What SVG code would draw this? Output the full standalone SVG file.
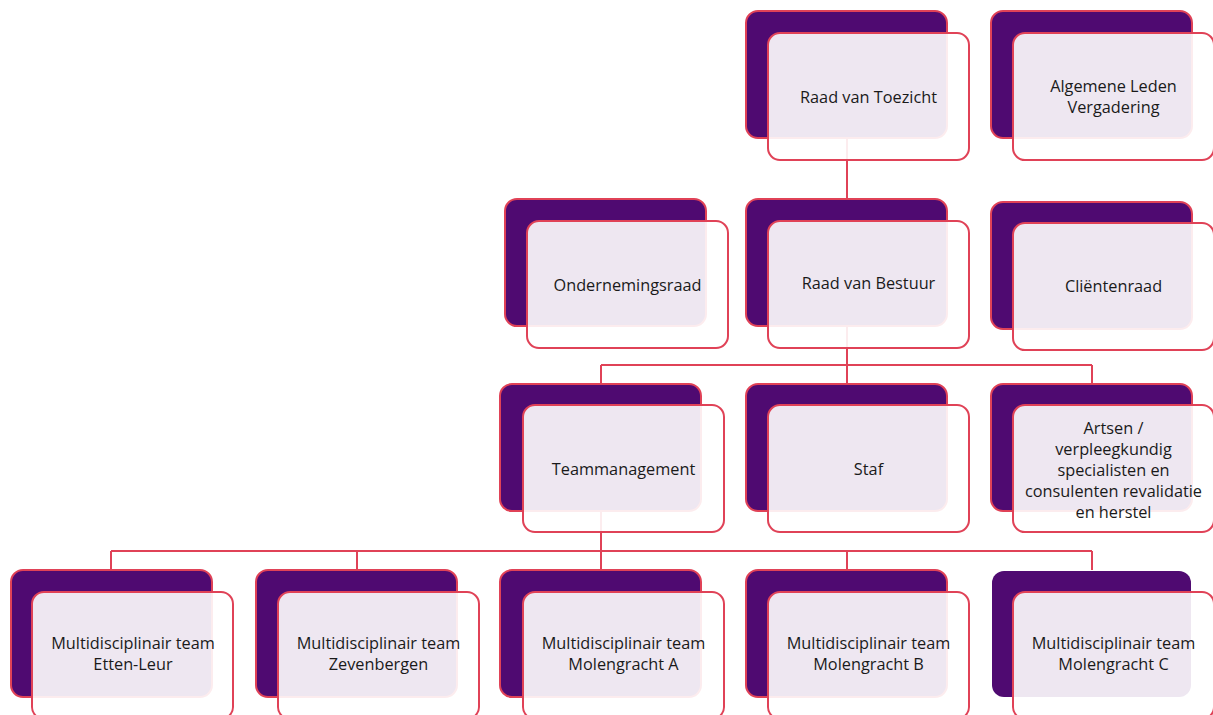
<svg xmlns="http://www.w3.org/2000/svg" width="1213" height="715" viewBox="0 0 1213 715">
<style>
.back{fill:#4F0A71;stroke:#E04257;stroke-width:2}
.back.nb{stroke:none}
.front{fill:#FFFFFF;fill-opacity:0.9;stroke:#E04257;stroke-width:2}
.conn{fill:none;stroke:#E04257;stroke-width:2}
text{font-family:"Open Sans","Liberation Sans",sans-serif;font-size:16.3px;fill:#1A1A1A;text-anchor:middle}
</style>
<rect width="1213" height="715" fill="#FFFFFF"/>
<g id="connectors">
<path class="conn" d="M847 138V199"/>
<path class="conn" d="M847 326V365M601 365H1092M601 365V384M847 365V384M1092 365V384"/>
<path class="conn" d="M601 511V551M111 551H1092M111 551V570M357 551V570M601 551V570M847 551V570M1092 551V570"/>
</g>
<g id="raad-van-toezicht">
<rect class="back" x="746" y="11" width="201" height="127" rx="12"/>
<rect class="front" x="768" y="33" width="201" height="127" rx="12"/>
<text x="868.5" y="103">Raad van Toezicht</text>
</g>
<g id="algemene-leden-vergadering">
<rect class="back" x="991" y="11" width="201" height="127" rx="12"/>
<rect class="front" x="1013" y="33" width="201" height="127" rx="12"/>
<text x="1113.5" y="92">Algemene Leden</text>
<text x="1113.5" y="113">Vergadering</text>
</g>
<g id="ondernemingsraad">
<rect class="back" x="505" y="199" width="201" height="127" rx="12"/>
<rect class="front" x="527" y="221" width="201" height="127" rx="12"/>
<text x="627.5" y="291">Ondernemingsraad</text>
</g>
<g id="raad-van-bestuur">
<rect class="back" x="746" y="199" width="201" height="127" rx="12"/>
<rect class="front" x="768" y="221" width="201" height="127" rx="12"/>
<text x="868.5" y="289">Raad van Bestuur</text>
</g>
<g id="clientenraad">
<rect class="back" x="991" y="202" width="201" height="127" rx="12"/>
<rect class="front" x="1013" y="223" width="201" height="127" rx="12"/>
<text x="1113.5" y="292">Cliëntenraad</text>
</g>
<g id="teammanagement">
<rect class="back" x="500" y="384" width="201" height="127" rx="12"/>
<rect class="front" x="523" y="405" width="201" height="127" rx="12"/>
<text x="623.5" y="475">Teammanagement</text>
</g>
<g id="staf">
<rect class="back" x="746" y="384" width="201" height="127" rx="12"/>
<rect class="front" x="768" y="405" width="201" height="127" rx="12"/>
<text x="868.5" y="475">Staf</text>
</g>
<g id="artsen">
<rect class="back" x="991" y="384" width="201" height="127" rx="12"/>
<rect class="front" x="1013" y="405" width="201" height="127" rx="12"/>
<text x="1113.5" y="434">Artsen /</text>
<text x="1113.5" y="455">verpleegkundig</text>
<text x="1113.5" y="476">specialisten en</text>
<text x="1113.5" y="497">consulenten revalidatie</text>
<text x="1113.5" y="518">en herstel</text>
</g>
<g id="team-etten-leur">
<rect class="back" x="11" y="570" width="201" height="127" rx="12"/>
<rect class="front" x="32" y="592" width="201" height="127" rx="12"/>
<text x="133" y="649">Multidisciplinair team</text>
<text x="133" y="670">Etten-Leur</text>
</g>
<g id="team-zevenbergen">
<rect class="back" x="256" y="570" width="201" height="127" rx="12"/>
<rect class="front" x="278" y="592" width="201" height="127" rx="12"/>
<text x="378.5" y="649">Multidisciplinair team</text>
<text x="378.5" y="670">Zevenbergen</text>
</g>
<g id="team-molengracht-a">
<rect class="back" x="500" y="570" width="201" height="127" rx="12"/>
<rect class="front" x="523" y="592" width="201" height="127" rx="12"/>
<text x="623.5" y="649">Multidisciplinair team</text>
<text x="623.5" y="670">Molengracht A</text>
</g>
<g id="team-molengracht-b">
<rect class="back" x="746" y="570" width="201" height="127" rx="12"/>
<rect class="front" x="768" y="592" width="201" height="127" rx="12"/>
<text x="868.5" y="649">Multidisciplinair team</text>
<text x="868.5" y="670">Molengracht B</text>
</g>
<g id="team-molengracht-c">
<rect class="back nb" x="992" y="571" width="199" height="126" rx="12"/>
<rect class="front" x="1013" y="592" width="201" height="127" rx="12"/>
<text x="1113.5" y="649">Multidisciplinair team</text>
<text x="1113.5" y="670">Molengracht C</text>
</g>
</svg>
